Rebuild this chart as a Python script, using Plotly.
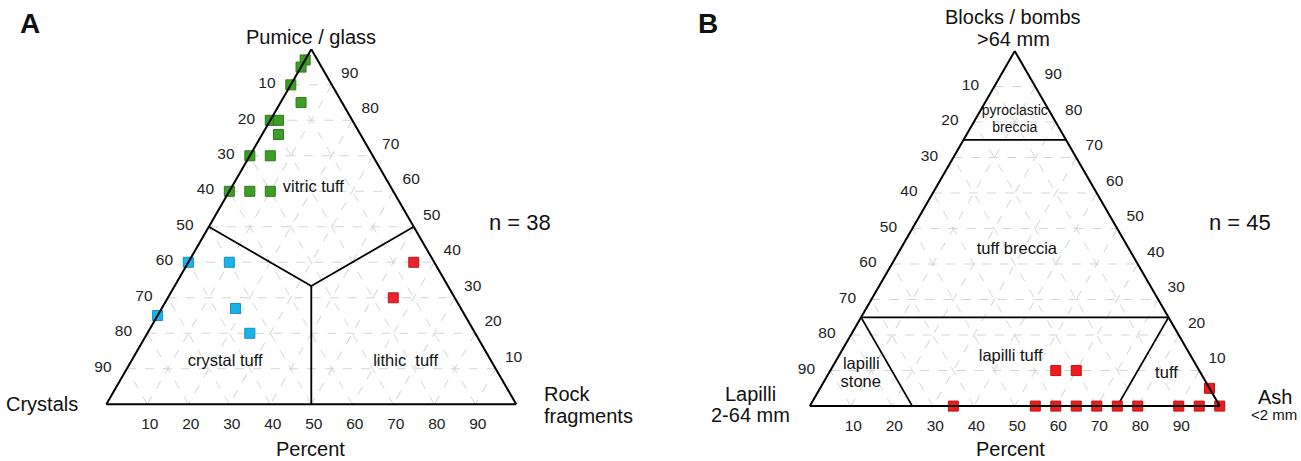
import plotly.graph_objects as go

W, H = 1301, 461
FONT = "Arial, Liberation Sans, sans-serif"

# ---------------- Panel A data (pumice/glass, crystals, rock fragments; %) ----------------
vitric_pumice   = [97, 95, 90, 85, 80, 80, 76, 70, 70, 60, 60, 60]
vitric_crystals = [3, 5, 10, 10, 20, 18, 20, 30, 25, 40, 35, 30]
vitric_rock     = [0, 0, 0, 5, 0, 2, 4, 0, 5, 0, 5, 10]

crystal_pumice   = [40, 40, 27, 25, 20]
crystal_crystals = [60, 50, 55, 75, 55]
crystal_rock     = [0, 10, 18, 0, 25]

lithic_pumice   = [40, 30]
lithic_crystals = [5, 15]
lithic_rock     = [55, 55]

# field boundaries A
bndA1_a = [50, 33.33, 50]
bndA1_b = [50, 33.33, 0]
bndA1_c = [0, 33.33, 50]
bndA2_a = [33.33, 0]
bndA2_b = [33.33, 50]
bndA2_c = [33.33, 50]

fieldA_text = ["vitric tuff", "crystal tuff", "lithic  tuff"]
fieldA_a = [61, 12, 12]
fieldA_b = [19, 65, 21]
fieldA_c = [20, 23, 67]

# ---------------- Panel B data (blocks, lapilli, ash; %) ----------------
B_blocks  = [0, 0, 0, 0, 0, 0, 0, 0, 0, 0, 10, 10, 5]
B_ash     = [35, 55, 60, 65, 70, 75, 80, 90, 95, 100, 55, 60, 95]
B_lapilli = [100 - x - y for x, y in zip(B_blocks, B_ash)]

bndB = [  # (a list, b list, c list)
    ([75, 75], [25, 0], [0, 25]),
    ([25, 25], [75, 0], [0, 75]),
    ([25, 0], [75, 75], [0, 25]),
    ([25, 0], [0, 25], [75, 75]),
]

fieldB_text = ["pyroclastic", "breccia", "tuff breccia", "lapilli tuff", "lapilli", "stone", "tuff"]
fieldB_a = [82.9, 78.3, 44, 14, 11.7, 6.55, 9]
fieldB_b = [8.55, 10.85, 27.5, 44, 81.6, 84.3, 8.5]
fieldB_c = [8.55, 10.85, 28.5, 42, 6.7, 9.15, 82.5]
fieldB_size = [14, 14, 16.5, 16.5, 16.5, 16.5, 16.5]

tick_vals = [10, 20, 30, 40, 50, 60, 70, 80, 90]
tick_text = [str(100 - v) for v in tick_vals]

fig = go.Figure()

def marker(color, line):
    return dict(symbol="square", size=10, color=color, line=dict(color=line, width=1))

# Panel A
fig.add_trace(go.Scatterternary(a=vitric_pumice, b=vitric_crystals, c=vitric_rock, mode="markers",
                                marker=marker("#3c9e24", "#2c7a18"), subplot="ternary", cliponaxis=False))
fig.add_trace(go.Scatterternary(a=crystal_pumice, b=crystal_crystals, c=crystal_rock, mode="markers",
                                marker=marker("#19b2ea", "#1290c0"), subplot="ternary", cliponaxis=False))
fig.add_trace(go.Scatterternary(a=lithic_pumice, b=lithic_crystals, c=lithic_rock, mode="markers",
                                marker=marker("#e8232b", "#b81a20"), subplot="ternary", cliponaxis=False))
for aa, bb, cc in [(bndA1_a, bndA1_b, bndA1_c), (bndA2_a, bndA2_b, bndA2_c)]:
    fig.add_trace(go.Scatterternary(a=aa, b=bb, c=cc, mode="lines", line=dict(color="black", width=1.8),
                                    subplot="ternary", hoverinfo="skip"))
fig.add_trace(go.Scatterternary(a=fieldA_a, b=fieldA_b, c=fieldA_c, mode="text", text=fieldA_text,
                                textfont=dict(family=FONT, size=16.5, color="#111"), subplot="ternary",
                                hoverinfo="skip"))

# Panel B
for aa, bb, cc in bndB:
    fig.add_trace(go.Scatterternary(a=aa, b=bb, c=cc, mode="lines", line=dict(color="black", width=1.8),
                                    subplot="ternary2", hoverinfo="skip"))
fig.add_trace(go.Scatterternary(a=B_blocks, b=B_lapilli, c=B_ash, mode="markers",
                                marker=marker("#ee1c1c", "#c01010"), subplot="ternary2", cliponaxis=False))
fig.add_trace(go.Scatterternary(a=fieldB_a, b=fieldB_b, c=fieldB_c, mode="text", text=fieldB_text,
                                textfont=dict(family=FONT, size=fieldB_size, color="#111"), subplot="ternary2",
                                hoverinfo="skip"))

def axis(ticklen):
    return dict(
        title=dict(text=""), min=0, showline=True, linecolor="black", linewidth=2,
        showgrid=True, gridcolor="#d4d4d4", gridwidth=1, griddash="dash",
        tickmode="array", tickvals=tick_vals, ticktext=tick_text,
        ticks="outside", ticklen=ticklen, tickcolor="rgba(0,0,0,0)",
        tickfont=dict(family=FONT, size=15.5, color="#222"),
    )

def tern(xc, yc):
    return dict(
        domain=dict(x=[xc - 0.17, xc + 0.17], y=[yc - 0.385, yc + 0.385]),
        sum=100, bgcolor="white",
        aaxis=axis(12), baxis=axis(5), caxis=axis(12),
    )

ann = []
def txt(x, y, s, size, xanchor="center"):
    ann.append(dict(x=x / W, y=1 - y / H, xref="paper", yref="paper", text=s, showarrow=False,
                    xanchor=xanchor, yanchor="middle",
                    font=dict(family=FONT, size=size, color="#111")))

txt(30, 24, "<b>A</b>", 28)
txt(708, 24, "<b>B</b>", 28)
txt(311, 37, "Pumice / glass", 20)
txt(80, 404, "Crystals", 20, xanchor="right")
txt(542, 394, "Rock", 20, xanchor="left")
txt(542, 416, "fragments", 20, xanchor="left")
txt(310, 449, "Percent", 20)
txt(520, 222, "n = 38", 22)
txt(1013, 17, "Blocks / bombs", 20)
txt(1013, 39, ">64 mm", 20)
txt(750, 394, "Lapilli", 20)
txt(750, 415, "2-64 mm", 20)
txt(1275, 397, "Ash", 20)
txt(1249, 414, "<2 mm", 15, xanchor="left")
txt(1010, 449, "Percent", 20)
txt(1240, 222, "n = 45", 22)

fig.update_layout(
    width=W, height=H, margin=dict(l=0, r=0, t=0, b=0),
    paper_bgcolor="white", plot_bgcolor="white", showlegend=False,
    ternary=tern(311.3 / W, 1 - 226.8 / H),
    ternary2=tern(1014.8 / W, 1 - 228.6 / H),
    annotations=ann,
    font=dict(family=FONT),
)

fig.write_html("out.html", config={"displayModeBar": False},
               post_script="document.body.style.margin='0px';")
